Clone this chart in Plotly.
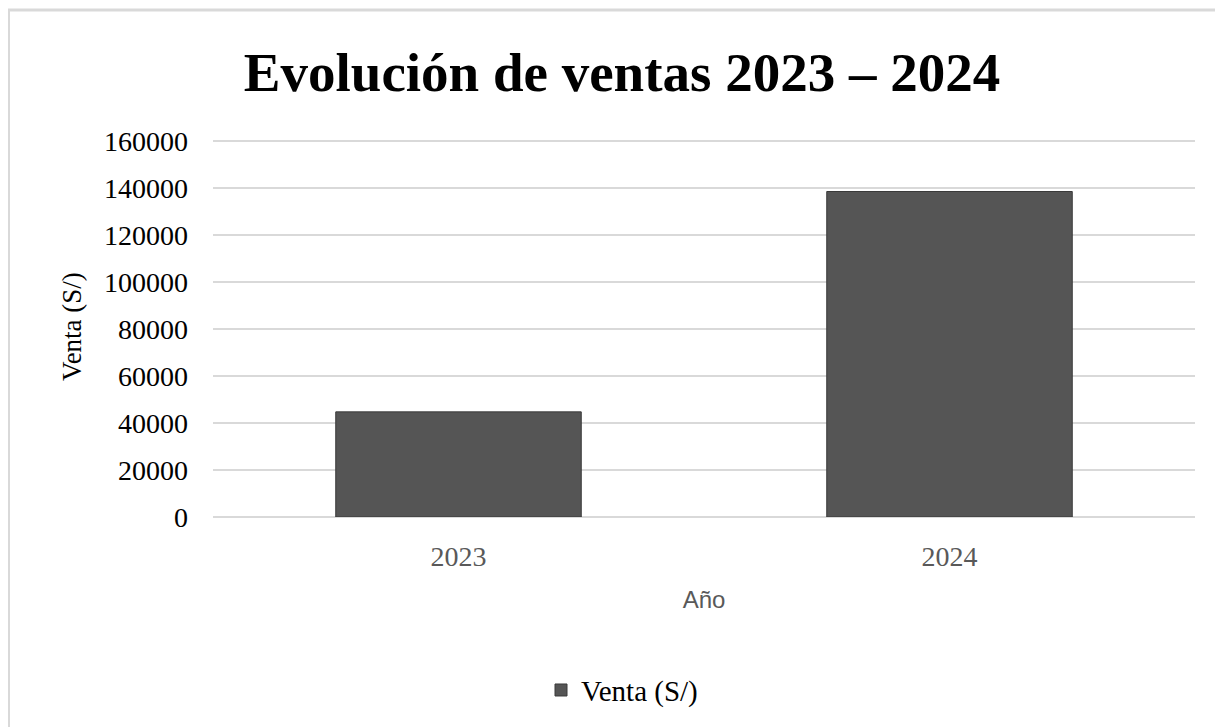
import plotly.graph_objects as go

years = ["2023", "2024"]
ventas = [44700, 138400]
y_ticks = [0, 20000, 40000, 60000, 80000, 100000, 120000, 140000, 160000]

# page body has an 8px margin; all positions below are in figure coordinates
W, H = 1215, 719
y_max = 162000
L, R = 205, 28
zero_y = 509
top_tick_y = 133
B = H - zero_y
ph = (zero_y - top_tick_y) * y_max / 160000
T = H - B - ph
pw = W - L - R

def px(x):
    return (x - L) / pw

def py(y):
    return (H - B - y) / ph

fig = go.Figure()
fig.add_trace(go.Bar(
    x=years, y=ventas, name="Venta (S/)",
    marker=dict(color="#555555", line=dict(color="#3a3a3a", width=1)),
    width=0.5,
))

fig.update_layout(
    width=W, height=H,
    margin=dict(l=L, r=R, t=T, b=B),
    paper_bgcolor="white", plot_bgcolor="white",
    title=dict(text="<b>Evolución de ventas 2023 – 2024</b>",
               font=dict(family="Liberation Serif", size=55, color="black"),
               x=px(614), xref="paper", xanchor="center",
               y=1 - 64 / H, yanchor="middle"),
    showlegend=True,
    legend=dict(orientation="h", x=px(614), xanchor="center", y=py(682), yanchor="middle",
                font=dict(family="Liberation Serif", size=29, color="black"),
                itemwidth=30, bgcolor="rgba(0,0,0,0)"),
    bargap=0.5,
)
fig.update_xaxes(
    type="category",
    tickfont=dict(family="Liberation Serif", size=28, color="#595959"),
    showgrid=False, showline=False, ticks="", ticklabelstandoff=20,
    title=dict(text="Año", font=dict(family="Liberation Sans", size=24, color="#595959"), standoff=20),
)
fig.update_yaxes(
    range=[0, y_max], tickvals=y_ticks, ticktext=[str(v) for v in y_ticks],
    tickfont=dict(family="Liberation Serif", size=28, color="black"),
    showgrid=True, gridcolor="#d9d9d9", gridwidth=2,
    zeroline=True, zerolinecolor="#d9d9d9", zerolinewidth=2,
    showline=False, ticks="", ticklabelstandoff=24,
    title=dict(text="Venta (S/)", font=dict(family="Liberation Serif", size=27, color="black"), standoff=14),
)
fig.add_shape(type="rect", xref="paper", yref="paper",
              x0=px(0.5), x1=px(W + 20), y0=py(2.5), y1=py(H + 20),
              line=dict(color="#d9d9d9", width=3), fillcolor="rgba(0,0,0,0)", layer="below")

fig.write_html("out.html")
